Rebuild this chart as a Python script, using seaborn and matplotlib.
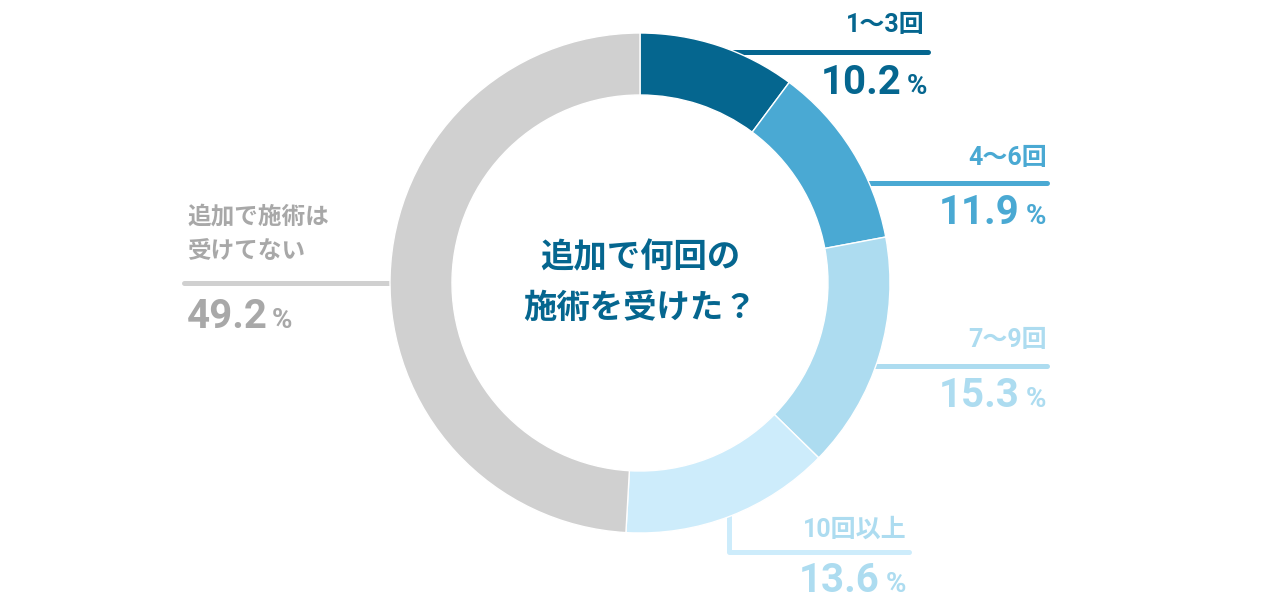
import matplotlib
matplotlib.use('Agg')
import matplotlib.pyplot as plt
import seaborn as sns

# data
categories = ['1〜3回', '4〜6回', '7〜9回', '10回以上', '追加で施術は\n受けてない']
shares = [10.2, 11.9, 15.3, 13.6, 49.2]
wedge_colors = ['#05668f', '#4aa9d3', '#addcf0', '#cdecfb', '#d0d0d0']
text_colors = ['#05668f', '#4aa9d3', '#addcf0', '#addcf0', '#a8a8a8']
center_title = '追加で何回の\n施術を受けた？'

sns.set_theme(style='white')
plt.rcParams['font.family'] = ['Roboto', 'Noto Sans CJK JP', 'DejaVu Sans']

fig = plt.figure(figsize=(12.8, 6.04), dpi=100)
ax = fig.add_axes([0, 0, 1, 1])

# donut, pixel space with y going down
cx, cy, r_out, ring = 640, 283, 250, 62
ax.pie(shares, colors=wedge_colors, startangle=-90, counterclock=True,
       radius=r_out, center=(cx, cy),
       wedgeprops=dict(width=ring, edgecolor='white', linewidth=1))
ax.set_xlim(0, 1280)
ax.set_ylim(604, 0)
ax.set_aspect('auto')
ax.axis('off')

fam = ['Roboto', 'Noto Sans CJK JP']
lw = 3.6

# leader lines: (xs, ys) per category
leaders = [
    ([700, 928], [52, 52]),
    ([860, 1047], [183, 183]),
    ([870, 1047], [366, 366]),
    ([729, 729, 909], [510, 552, 552]),
    ([184, 395], [283, 283]),
]
for i, (xs, ys) in enumerate(leaders):
    ax.plot(xs, ys, color=wedge_colors[i], lw=lw, solid_capstyle='round',
            solid_joinstyle='round', zorder=0)

# label positions: (label x, label y, value right/left x, value y, align)
spots = [
    (925, 32, 927, 94, 'right'),
    (1047, 165, 1046, 224, 'right'),
    (1047, 347, 1046, 407, 'right'),
    (907, 537, 906, 592, 'right'),
    (187, 234, 187, 328, 'left'),
]
for i, (lx, ly, vx, vy, ha) in enumerate(spots):
    c = text_colors[i]
    num = f'{shares[i]:.1f}'
    if ha == 'right':
        ax.text(lx, ly, categories[i], ha='right', va='baseline', fontsize=18,
                fontweight='bold', color=c, family=fam)
        ax.text(vx, vy, '%', ha='right', va='baseline', fontsize=20,
                fontweight='bold', color=c, family=fam)
        ax.text(vx - 26, vy, num, ha='right', va='baseline', fontsize=29,
                fontweight='bold', color=c, family=fam)
    else:
        ax.text(lx, ly, categories[i], ha='left', va='center', fontsize=17,
                fontweight='bold', color=c, family=fam, linespacing=1.65)
        ax.text(vx, vy, num, ha='left', va='baseline', fontsize=29,
                fontweight='bold', color=c, family=fam)
        ax.text(vx + 85, vy, '%', ha='left', va='baseline', fontsize=20,
                fontweight='bold', color=c, family=fam)

ax.text(cx, 283, center_title, ha='center', va='center', fontsize=24,
        fontweight='bold', color='#05668f', family=fam, linespacing=1.75)

fig.savefig('out.png', dpi=100)
